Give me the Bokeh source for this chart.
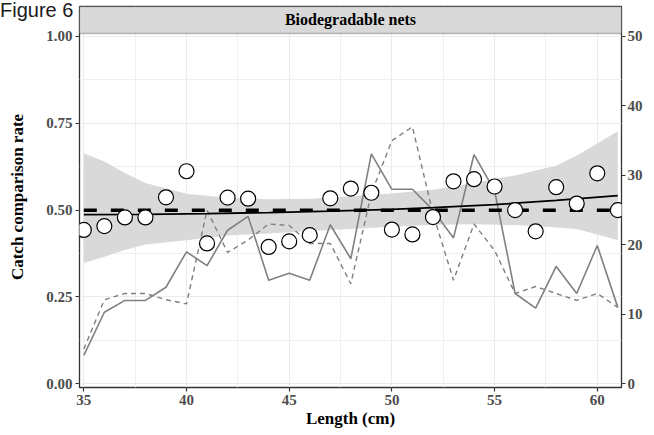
from bokeh.plotting import figure
from bokeh.layouts import column
from bokeh.models import (Range1d, LinearAxis, FixedTicker, NumeralTickFormatter,
                          BoxAnnotation, Label, Div)
from bokeh.embed import file_html
from bokeh.resources import INLINE

# ---------------- data ----------------
lengths = [35, 36, 37, 38, 39, 40, 41, 42, 43, 44, 45, 46, 47, 48, 49, 50, 51, 52,
           53, 54, 55, 56, 57, 58, 59, 60, 61]
rate = [0.443, 0.454, 0.479, 0.479, 0.537, 0.612, 0.404, 0.536, 0.533,
        0.394, 0.410, 0.428, 0.534, 0.562, 0.550, 0.444, 0.430, 0.480,
        0.583, 0.589, 0.568, 0.500, 0.439, 0.566, 0.519, 0.606, 0.500]
catch_solid = [4.1, 10.3, 12.0, 12.0, 13.9, 19.0, 17.0, 22.1, 24.1,
               14.9, 15.9, 14.9, 22.9, 18.0, 33.1, 28.0, 28.0, 25.0,
               21.0, 33.0, 27.8, 13.0, 10.9, 16.9, 13.0, 19.9, 11.0]
catch_dashed = [5.0, 12.1, 13.0, 13.0, 12.1, 11.5, 25.0, 18.9, 20.7,
                23.0, 22.8, 20.2, 20.2, 14.4, 27.4, 35.0, 37.0, 24.5,
                14.9, 23.0, 19.2, 13.0, 14.0, 13.0, 12.0, 13.0, 11.0]
fit_len = [35, 38, 41, 44, 47, 50, 52, 55, 58, 61]
fit_rate = [0.487, 0.488, 0.490, 0.493, 0.497, 0.502, 0.507, 0.516, 0.528, 0.542]
ci_len = [35, 36, 37, 38, 40, 42, 44, 46, 48, 50, 52, 54, 56, 57, 58, 59, 60, 61]
ci_lower = [0.348, 0.366, 0.385, 0.401, 0.413, 0.427, 0.433, 0.440, 0.446, 0.452,
            0.458, 0.459, 0.457, 0.454, 0.450, 0.446, 0.430, 0.413]
ci_upper = [0.664, 0.640, 0.607, 0.578, 0.547, 0.536, 0.531, 0.533, 0.540, 0.548,
            0.559, 0.578, 0.600, 0.614, 0.628, 0.657, 0.692, 0.727]
x_ticks = [35, 40, 45, 50, 55, 60]
y_ticks = [0.0, 0.25, 0.50, 0.75, 1.0]
count_ticks = [0, 10, 20, 30, 40, 50]
ref_rate = 0.5
count_max = 50
strip_title = "Biodegradable nets"
fig_title = "Figure 6"

# ---------------- layout ----------------
X0, X1 = 34.79, 61.18
Y0, Y1 = -0.0107, 1.0863
STRIP = 1.0086

SERIF = "Liberation Serif"
TICK_COLOR = "#4D4D4D"
DARK = "#333333"

p = figure(width=654, height=435, x_range=Range1d(X0, X1), y_range=Range1d(Y0, Y1),
           output_backend="svg", toolbar_location=None,
           min_border_left=79, min_border_right=33, min_border_top=6, min_border_bottom=48,
           background_fill_color="white", border_fill_color=None)
p.outline_line_color = DARK
p.outline_line_width = 1.3
p.extra_y_ranges = {"count": Range1d(Y0 * count_max, Y1 * count_max)}

# grids
p.xaxis.ticker = FixedTicker(ticks=x_ticks, minor_ticks=[t + 2.5 for t in x_ticks[:-1]])
p.yaxis.ticker = FixedTicker(ticks=y_ticks, minor_ticks=[t + 0.125 for t in y_ticks[:-1]])
for g in (p.xgrid, p.ygrid):
    g.grid_line_color = "#EBEBEB"
    g.grid_line_width = 1
    g.minor_grid_line_color = "#EFEFEF"
    g.minor_grid_line_width = 1

# axes styling
def style_axis(ax):
    ax.axis_line_color = None
    ax.major_tick_line_color = DARK
    ax.major_tick_line_width = 1.2
    ax.major_tick_out = 4
    ax.major_tick_in = 0
    ax.minor_tick_line_color = None
    ax.major_label_text_font = SERIF
    ax.major_label_text_font_style = "bold"
    ax.major_label_text_font_size = "15px"
    ax.major_label_text_color = TICK_COLOR
    ax.axis_label_text_font = SERIF
    ax.axis_label_text_font_style = "bold"
    ax.axis_label_text_font_size = "17px"
    ax.axis_label_text_color = "black"

style_axis(p.xaxis[0])
style_axis(p.yaxis[0])
p.xaxis.axis_label = "Length (cm)"
p.xaxis.major_label_standoff = 3
p.xaxis.axis_label_standoff = 1
p.yaxis.axis_label = "Catch comparison rate"
p.yaxis.formatter = NumeralTickFormatter(format="0.00")
p.yaxis.major_label_standoff = 3
p.yaxis.axis_label_standoff = 16

rax = LinearAxis(y_range_name="count", ticker=FixedTicker(ticks=count_ticks))
style_axis(rax)
rax.major_label_standoff = 2
p.add_layout(rax, "right")

# confidence band
p.varea(x=ci_len, y1=ci_lower, y2=ci_upper, fill_color="#D9D9D9", fill_alpha=1)

# catch lines (right axis)
p.line(lengths, catch_solid, y_range_name="count", line_color="#808080", line_width=1.6)
p.line(lengths, catch_dashed, y_range_name="count", line_color="#808080", line_width=1.4,
       line_dash="5 4")

# reference line
p.line([X0 + 0.21, X1 - 0.18], [ref_rate, ref_rate], line_color="black", line_width=3.5,
       line_dash="13 14")
# fitted curve
p.line(fit_len, fit_rate, line_color="black", line_width=1.8)

# points
p.scatter(lengths, rate, size=15, fill_color="white", line_color="black", line_width=1.2)

# strip
p.add_layout(BoxAnnotation(bottom=STRIP, fill_color="#D9D9D9", fill_alpha=1,
                           line_color=DARK, line_width=1.3))
p.add_layout(Label(x=(X0 + X1) / 2, y=(STRIP + Y1) / 2, text=strip_title,
                   text_align="center", text_baseline="middle", text_font=SERIF,
                   text_font_style="bold", text_font_size="16px", text_color="black"))

# "Figure 6" caption in the top-left corner (outside the plot frame):
# a zero-net-height Div drawn underneath the transparent figure border
fig_div = Div(text=fig_title, width=78, height=24, margin=(0, 0, -24, 0),
              styles={"font-family": "Liberation Sans", "font-size": "20px",
                      "line-height": "20px", "color": "#1a1a1a", "white-space": "nowrap"})
layout = column(fig_div, p, spacing=0)

open("out.html", "w").write(file_html(layout, INLINE))
